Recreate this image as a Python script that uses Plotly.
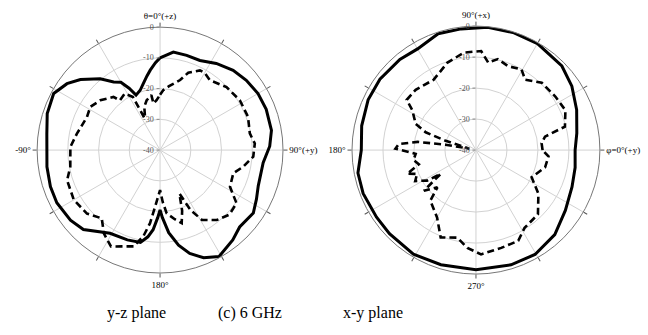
import plotly.graph_objects as go

# y-z plane (theta measured clockwise from +z at top), dB
yz_solid_theta = [0, 7.7, 15.7, 24, 33, 42.5, 51, 60, 69, 80, 88, 97, 110, 117, 124, 134, 141, 151,
                  158, 164, 169, 174, 178, 180, 182, 185, 188, 192, 200, 211, 224, 232, 243, 251.6,
                  261.6, 278, 288, 298, 305.5, 311.5, 320, 325.7, 330, 333.4, 336.4, 341.6, 346,
                  350, 353, 357, 360]
yz_solid_db = [-10, -7.8, -8, -8.1, -6.4, -4.8, -3.9, -3.2, -3, -3.2, -4.3, -6.2, -6, -4.8, -3.4, -4,
               -2.4, -0.4, -2.2, -5, -8.5, -13, -18, -20.5, -18, -14, -11.5, -9.3, -8.9, -8.4, -4.1,
               -3, -2.3, -2.4, -2.8, -2.8, -1.4, -0.8, -2.8, -5.4, -9.7, -13.2, -14.5, -17.5, -20.5,
               -19.5, -17.6, -15.5, -13.8, -11.5, -10]

yz_dash_theta = [0, 3, 8, 16, 20, 26.6, 30, 35.5, 46.5, 58, 69.3, 79.5, 86, 94, 101.3, 107.6, 117.7,
                 124.8, 133, 141, 149, 153, 156, 160, 163.5, 168, 174, 177, 180, 185, 187.8, 191,
                 195.4, 201.6, 207, 214, 220.5, 229, 240, 252, 259.5, 272, 281, 294.4, 301.8, 309.8,
                 318.8, 321, 328, 333, 334, 335.7, 340, 345, 351, 352, 356, 360]
yz_dash_db = [-22, -20.5, -19, -16.3, -13.2, -11, -11, -12.1, -10.2, -9.4, -9.4, -10.3, -9.1, -9.6,
              -12.4, -15, -14.3, -9.7, -9.2, -10.7, -13.5, -18, -24.5, -19, -15.2, -17, -19.3, -23,
              -27, -21.5, -16, -11.4, -7.5, -6.3, -4.8, -7.3, -10.8, -8.5, -7.6, -8.2, -10.3, -10.8,
              -12.4, -13.9, -13.3, -14.7, -17, -19.2, -18.3, -20.6, -28.5, -28.1, -25, -23.2, -21.9,
              -24.7, -23.7, -22]

# x-y plane (phi measured counterclockwise from +y at right), dB
xy_solid_phi = [0, 9.5, 21.8, 33.7, 44.4, 60, 72, 84.5, 97, 108, 120, 130, 143.6, 155, 168, 180, 191,
                201, 214, 224, 239, 253, 270, 287, 299.5, 313, 326, 339, 350, 360]
xy_solid_db = [-8, -7, -5, -2.8, -1.2, -0.3, -0.2, -0.2, -0.6, -0.5, -2.3, -1.8, -1.5, -1.6, -2.3, -3,
               -1.2, -1, -1.3, -1.2, -0.8, -1.3, -1.4, -1.3, -1.3, -2.7, -5.2, -6.8, -7.5, -8]

xy_dash_phi = [0, 6, 11, 14.8, 24, 34, 45.7, 55, 60.6, 69, 76.5, 82, 87, 97, 108, 121, 135, 144, 148,
               156.6, 160.5, 163, 168, 170, 172, 175.5, 179, 183.6, 189, 194, 199, 202, 207, 212,
               214, 218, 224, 228, 240, 248, 258, 265, 272.8, 284.5, 295, 302, 314, 325, 334, 346,
               355, 360]
xy_dash_db = [-18.5, -18.7, -17.3, -10.3, -8.4, -9.1, -9.6, -12.3, -10.1, -11, -9.8, -11.5, -8, -8.3,
              -10.3, -13.5, -12.5, -12.4, -15.8, -18.8, -22.8, -29.8, -37.8, -30, -21, -15, -14,
              -20.5, -19.6, -21, -16.5, -19.5, -18, -21.4, -26.3, -18.7, -22.7, -18, -14.9, -9.6,
              -11.1, -8.3, -6.3, -7.4, -7.7, -10.4, -11.2, -15.4, -20, -17, -16.5, -18.5]

radial_ticks = [-40, -30, -20, -10, 0]
angle_grid = list(range(0, 360, 30))
yz_labels = {0: "θ=0°(+z)", 90: "90°(+y)", 180: "180°", 270: "-90°"}
xy_labels = {0: "φ=0°(+y)", 90: "90°(+x)", 180: "180°", 270: "270°"}

fig = go.Figure()
fig.add_trace(go.Scatterpolar(r=yz_solid_db, theta=yz_solid_theta, mode="lines",
                              line=dict(color="black", width=3), subplot="polar"))
fig.add_trace(go.Scatterpolar(r=yz_dash_db, theta=yz_dash_theta, mode="lines",
                              line=dict(color="black", width=2.6, dash="7px,4px"), subplot="polar"))
fig.add_trace(go.Scatterpolar(r=xy_solid_db, theta=xy_solid_phi, mode="lines",
                              line=dict(color="black", width=3), subplot="polar2"))
fig.add_trace(go.Scatterpolar(r=xy_dash_db, theta=xy_dash_phi, mode="lines",
                              line=dict(color="black", width=2.6, dash="7px,4px"), subplot="polar2"))

serif = "Liberation Serif"

def radial():
    return dict(range=[-40, 0], tickvals=radial_ticks, ticktext=[str(v) for v in radial_ticks],
                angle=90, tickangle=90, side="counterclockwise", showline=False,
                gridcolor="#d2d2d2", gridwidth=1, ticks="outside", ticklen=3, tickcolor="#888",
                tickfont=dict(family=serif, size=8, color="#555"))

def angular(labels, rotation, direction):
    return dict(rotation=rotation, direction=direction, tickmode="array", tickvals=angle_grid,
                ticktext=[labels.get(a, "") for a in angle_grid], showline=True,
                linecolor="#777", linewidth=1, gridcolor="#d2d2d2", gridwidth=1,
                ticks="outside", ticklen=4, tickcolor="#555",
                tickfont=dict(family=serif, size=9, color="black"))

fig.update_layout(
    width=648, height=335, margin=dict(l=0, r=0, t=0, b=0),
    paper_bgcolor="white", showlegend=False,
    polar=dict(domain=dict(x=[0.057, 0.437], y=[0.185, 0.919]), bgcolor="white",
               radialaxis=radial(), angularaxis=angular(yz_labels, 90, "clockwise")),
    polar2=dict(domain=dict(x=[0.543, 0.926], y=[0.182, 0.922]), bgcolor="white",
                radialaxis=radial(), angularaxis=angular(xy_labels, 0, "counterclockwise")),
)
for txt, px in [("y-z plane", 136), ("(c) 6 GHz", 250), ("x-y plane", 373)]:
    fig.add_annotation(text=txt, x=px / 648, y=1 - 313 / 335, xref="paper", yref="paper",
                       showarrow=False, xanchor="center", yanchor="middle",
                       font=dict(family=serif, size=16, color="black"))

fig.write_html("out.html")
